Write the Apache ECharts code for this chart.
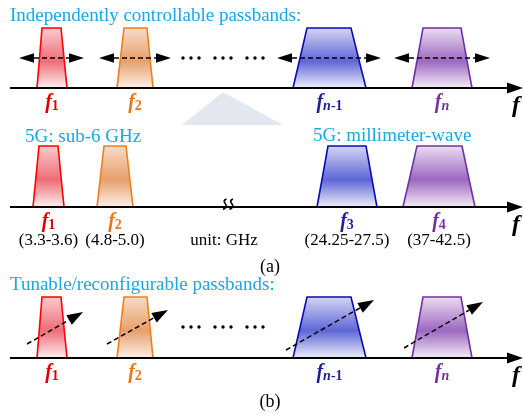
<!DOCTYPE html>
<html>
<head>
<meta charset="utf-8">
<script src="https://cdn.jsdelivr.net/npm/echarts@6/dist/echarts.min.js"></script>
<style>
html, body { margin: 0; padding: 0; background: #fff; }
#main { width: 524px; height: 417px; }
</style>
</head>
<body>
<div id="main"></div>
<script>
var SERIF = '"Liberation Serif", "Times New Roman", serif';

// passband colours: outline, gradient (top, middle, bottom), label
var bandStroke = ['#ff0000', '#f07d1e', '#0a0ab8', '#7030a0'];
var bandFillTop = ['#f9cdd0', '#f8dcc8', '#d6d8f4', '#ecdff2'];
var bandFillMid = ['#ee6d78', '#e6a06c', '#5e66d6', '#9c68c0'];
var bandFillBot = ['#fdf2f2', '#fdf2ea', '#f2f2fc', '#f7f0f9'];
var bandLabel = ['#e00000', '#e8761c', '#1e1e96', '#7030a0'];

// baseline and passband top of the three frequency axes
var axisY = [88, 207, 358];
var bandTopY = [28, 146, 297];
var axisStart = 10;
var axisEnd = 523;

// passband edges on the f axis: [bottom left, bottom right, top left, top right]
var bandsGeneric = [[37, 67, 42, 61], [117, 153, 124, 147], [293, 366, 307, 351], [412, 472, 423, 461]];
var bands5G = [[33, 64, 39, 58], [97, 133, 104, 126], [317, 377, 328, 366], [403, 475, 417, 462]];
var subsGeneric = ['1', '2', 'n-1', 'n'];
var subs5G = ['1', '2', '3', '4'];
var ranges5G = ['(3.3-3.6)', '(4.8-5.0)', '(24.25-27.5)', '(37-42.5)'];

// tuning arrows: horizontal (top panel) and diagonal (bottom panel)
var shiftArrows = [[19, 84], [99, 171], [277, 381], [394, 490]];
var shiftY = 58;
var tuneArrows = [[27, 344, 83, 312], [107, 344, 168, 310], [286, 350, 374, 300], [404, 348, 483, 302]];
var dotsX = [183, 191, 199, 215, 223, 231, 247, 255, 263];
var dotsY = [58, 327];
var breakX = [225, 231.5];

var texts = [
	{x: 10, y: 16, t: 'Independently controllable passbands:', k: 'title', a: 'left'},
	{x: 25, y: 137, t: '5G: sub-6 GHz', k: 'title', a: 'left'},
	{x: 313, y: 136, t: '5G: millimeter-wave', k: 'title', a: 'left'},
	{x: 10, y: 285, t: 'Tunable/reconfigurable passbands:', k: 'title', a: 'left'},
	{x: 224, y: 241, t: 'unit: GHz', k: 'note', a: 'center'},
	{x: 270, y: 267, t: '(a)', k: 'cap', a: 'center'},
	{x: 270, y: 402, t: '(b)', k: 'cap', a: 'center'}
];
ranges5G.forEach(function(r, i) {
	var b = bands5G[i];
	texts.push({x: (b[0] + b[1]) / 2, y: 241, t: r, k: 'note', a: 'center'});
});
axisY.forEach(function(y) {
	texts.push({x: 516, y: y + 18, t: 'f', k: 'bigf', a: 'center'});
});

function arrowHead(p0, p1, len, half) {
	var dx = p1[0] - p0[0], dy = p1[1] - p0[1];
	var d = Math.sqrt(dx * dx + dy * dy);
	var ux = dx / d, uy = dy / d;
	var bx = p1[0] - ux * len, by = p1[1] - uy * len;
	return {
		pts: [[p1[0], p1[1]], [bx - uy * half, by + ux * half], [bx + uy * half, by - ux * half]],
		base: [bx, by]
	};
}

// passband trapezoids for the three panels
var bandItems = [];
[[bandsGeneric, 0], [bands5G, 1], [bandsGeneric, 2]].forEach(function(s) {
	s[0].forEach(function(b, i) {
		bandItems.push([b[0], axisY[s[1]], b[1], b[2], b[3], bandTopY[s[1]], i]);
	});
});

// f labels under passbands
var labelItems = [];
[[bandsGeneric, subsGeneric, 0], [bands5G, subs5G, 1], [bandsGeneric, subsGeneric, 2]].forEach(function(s) {
	s[0].forEach(function(b, i) {
		labelItems.push({x: (b[0] + b[1]) / 2, y: axisY[s[2]] + 15, sub: s[1][i], c: i});
	});
});

var dotItems = [];
dotsY.forEach(function(y) {
	dotsX.forEach(function(x) { dotItems.push([x, y]); });
});

var textFonts = {
	title: {font: '19px ' + SERIF, fill: '#17a9e6'},
	note: {font: '17px ' + SERIF, fill: '#000'},
	cap: {font: '18px ' + SERIF, fill: '#000'},
	bigf: {font: 'italic bold 24px ' + SERIF, fill: '#000'}
};

var option = {
	animation: false,
	grid: {left: 0, right: 0, top: 0, bottom: 0},
	xAxis: {type: 'value', min: 0, max: 524, show: false},
	yAxis: {type: 'value', min: 0, max: 417, inverse: true, show: false},
	series: [
		{
			// pale pointer between panel (a) halves
			type: 'custom',
			data: [[223, 92, 283, 125, 182, 125]],
			renderItem: function(params, api) {
				return {
					type: 'polygon',
					shape: {points: [
						api.coord([api.value(0), api.value(1)]),
						api.coord([api.value(2), api.value(3)]),
						api.coord([api.value(4), api.value(5)])
					]},
					style: {fill: '#e3e8f0'}
				};
			}
		},
		{
			type: 'custom',
			data: bandItems,
			renderItem: function(params, api) {
				var c = api.value(6);
				var pts = [
					api.coord([api.value(0), api.value(1)]),
					api.coord([api.value(2), api.value(1)]),
					api.coord([api.value(4), api.value(5)]),
					api.coord([api.value(3), api.value(5)])
				];
				return {
					type: 'polygon',
					shape: {points: pts},
					style: {
						fill: new echarts.graphic.LinearGradient(0, 0, 0, 1, [
							{offset: 0, color: bandFillTop[c]},
							{offset: 0.55, color: bandFillMid[c]},
							{offset: 1, color: bandFillBot[c]}
						]),
						stroke: bandStroke[c],
						lineWidth: 1.6
					}
				};
			}
		},
		{
			// frequency axes with arrow heads
			type: 'custom',
			data: axisY.map(function(y) { return [axisStart, y, axisEnd]; }),
			renderItem: function(params, api) {
				var a = api.coord([api.value(0), api.value(1)]);
				var b = api.coord([api.value(2), api.value(1)]);
				var h = arrowHead(a, b, 16, 5.5);
				return {
					type: 'group',
					children: [
						{type: 'line', shape: {x1: a[0], y1: a[1], x2: h.base[0] + 2, y2: a[1]}, style: {stroke: '#000', lineWidth: 2}},
						{type: 'polygon', shape: {points: h.pts}, style: {fill: '#000'}}
					]
				};
			}
		},
		{
			// axis break marks
			type: 'custom',
			data: breakX.map(function(x) { return [x, axisY[1]]; }),
			renderItem: function(params, api) {
				var p = api.coord([api.value(0), api.value(1)]);
				var x = p[0], y = p[1];
				return {
					type: 'path',
					shape: {
						pathData: 'M' + (x + 1.5) + ' ' + (y - 8) +
							' Q' + (x - 2.5) + ' ' + (y - 6.5) + ' ' + (x + 0.5) + ' ' + (y - 3) +
							' Q' + (x + 3) + ' ' + (y) + ' ' + (x - 2) + ' ' + (y + 2.5)
					},
					style: {stroke: '#000', lineWidth: 1.7, fill: null}
				};
			}
		},
		{
			type: 'custom',
			data: shiftArrows.map(function(a) { return [a[0], shiftY, a[1]]; }),
			renderItem: function(params, api) {
				var a = api.coord([api.value(0), api.value(1)]);
				var b = api.coord([api.value(2), api.value(1)]);
				var hr = arrowHead(a, b, 15, 4.8);
				var hl = arrowHead(b, a, 15, 4.8);
				return {
					type: 'group',
					children: [
						{type: 'line', shape: {x1: hl.base[0], y1: a[1], x2: hr.base[0], y2: b[1]},
							style: {stroke: '#000', lineWidth: 1.5, lineDash: [5, 3]}},
						{type: 'polygon', shape: {points: hl.pts}, style: {fill: '#000'}},
						{type: 'polygon', shape: {points: hr.pts}, style: {fill: '#000'}}
					]
				};
			}
		},
		{
			type: 'custom',
			data: tuneArrows,
			renderItem: function(params, api) {
				var a = api.coord([api.value(0), api.value(1)]);
				var b = api.coord([api.value(2), api.value(3)]);
				var h = arrowHead(a, b, 16, 5.5);
				return {
					type: 'group',
					children: [
						{type: 'line', shape: {x1: a[0], y1: a[1], x2: h.base[0], y2: h.base[1]},
							style: {stroke: '#000', lineWidth: 1.5, lineDash: [5, 3]}},
						{type: 'polygon', shape: {points: h.pts}, style: {fill: '#000'}}
					]
				};
			}
		},
		{
			type: 'custom',
			data: dotItems,
			renderItem: function(params, api) {
				var p = api.coord([api.value(0), api.value(1)]);
				return {type: 'circle', shape: {cx: p[0], cy: p[1], r: 1.7}, style: {fill: '#000'}};
			}
		},
		{
			type: 'custom',
			data: labelItems.map(function(d) { return [d.x, d.y]; }),
			renderItem: function(params, api) {
				var d = labelItems[params.dataIndex];
				var p = api.coord([api.value(0), api.value(1)]);
				var col = bandLabel[d.c];
				var sub = d.sub === 'n-1' ? '{si|n}{s|-1}' : (d.sub === 'n' ? '{si|n}' : '{s|' + d.sub + '}');
				return {
					type: 'text',
					x: p[0], y: p[1],
					style: {
						text: '{f|f}' + sub,
						align: 'center', verticalAlign: 'middle',
						rich: {
							f: {font: 'italic bold 20px ' + SERIF, fill: col},
							si: {font: 'italic bold 14px ' + SERIF, fill: col, verticalAlign: 'bottom'},
							s: {font: 'bold 14px ' + SERIF, fill: col, verticalAlign: 'bottom'}
						}
					}
				};
			}
		},
		{
			type: 'custom',
			data: texts.map(function(d) { return [d.x, d.y]; }),
			renderItem: function(params, api) {
				var d = texts[params.dataIndex];
				var st = textFonts[d.k];
				var p = api.coord([api.value(0), api.value(1)]);
				return {
					type: 'text',
					x: p[0], y: p[1],
					style: {
						text: d.t,
						font: st.font,
						fill: st.fill,
						align: d.a,
						verticalAlign: 'middle'
					}
				};
			}
		}
	]
};

var myChart = echarts.init(document.getElementById('main'));
myChart.setOption(option, true);
</script>
</body>
</html>
